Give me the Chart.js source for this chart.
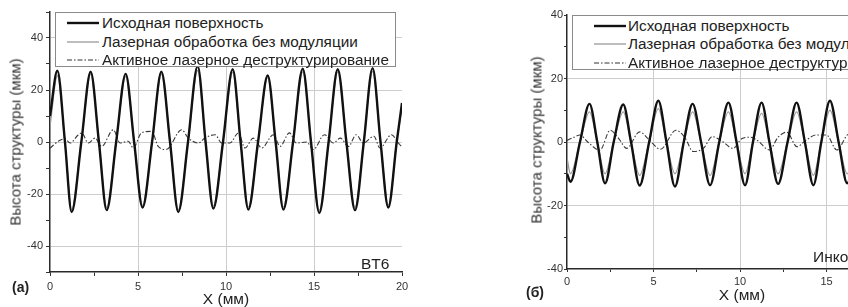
<!DOCTYPE html>
<html><head><meta charset="utf-8">
<script src="https://cdn.jsdelivr.net/npm/chart.js@4.4.1/dist/chart.umd.min.js"></script>
<style>
html,body{margin:0;padding:0;width:848px;height:307px;overflow:hidden;background:#fff;font-family:"Liberation Sans",Arial,sans-serif;}
.panel{position:absolute;top:0;height:307px;}
.lbl{position:absolute;white-space:nowrap;color:#222;line-height:1;}
.ytitle{position:absolute;white-space:nowrap;color:#333;font-weight:400;font-size:15px;line-height:1;transform:translate(-50%,-50%) rotate(-90deg);}
.xtitle{position:absolute;white-space:nowrap;color:#222;font-size:15.5px;line-height:1;transform:translate(-50%,-50%);}
.legend{position:absolute;background:#fff;border:1px solid #8a8a8a;box-sizing:border-box;}
.row{position:absolute;left:0;height:18px;width:100%;}
.row svg{position:absolute;top:0;}
.row span{position:absolute;top:0px;font-size:15.3px;color:#222;white-space:nowrap;line-height:17px;}
</style>
</head>
<body>
<script>
// ---------- Panel (a): BT6 ----------
const xA = [0, 0.42, 0.85, 1.23, 1.78, 2.31, 2.78, 3.22, 3.76, 4.3, 4.78, 5.26, 5.8, 6.33, 6.82, 7.29, 7.84, 8.39, 8.84, 9.28, 9.83, 10.38, 10.83, 11.27, 11.82, 12.37, 12.82, 13.26, 13.81, 14.36, 14.83, 15.3, 15.83, 16.35, 16.84, 17.33, 17.83, 18.33, 18.78, 19.22, 19.7, 20];
const aInitial = [10, 27.4, 0, -26.9, 0, 27, 0, -26.2, 0, 26.2, 0, -25.2, 0, 27, 0, -26.9, 0, 29.2, 0, -25.6, 0, 28, 0, -26, 0, 25.6, 0, -26, 0, 28.2, 0, -27.3, 0, 28, 0, -26.2, 0, 28.4, 0, -25.2, 0, 15];
const aLaser   = [6, 25.5, 0, -26, 0, 26, 0, -25.2, 0, 25.2, 0, -24.4, 0, 26, 0, -26, 0, 27.5, 0, -24.6, 0, 26.8, 0, -25, 0, 24.8, 0, -25, 0, 27, 0, -26.2, 0, 27, 0, -25.2, 0, 27.2, 0, -24.3, 0, 13];
const xAdest = [0, 0.47, 0.85, 1.14, 1.6, 1.8, 2.18, 2.56, 2.93, 3.6, 3.98, 4.45, 4.73, 5.2, 5.78, 6.15, 6.6, 7.48, 7.86, 8.43, 8.8, 9.38, 9.75, 10.23, 10.7, 11.08, 11.55, 12.03, 12.7, 13.07, 13.6, 14.0, 14.58, 14.96, 15.6, 16.1, 16.5, 16.95, 17.4, 17.8, 18.4, 18.75, 19.4, 19.8, 20];
const aDestr  = [-2.4, 0.3, 1.2, -0.4, 2.7, 3.5, -0.4, 1.5, -1.7, 4.7, -0.4, 0.3, -2.3, 3.5, 4.1, -1.7, -2.9, 4.7, 1.5, -0.4, 1.5, 2.8, -0.4, -0.4, 3.5, -2.3, 1.5, -2.3, 2.8, -1.7, 3.5, -0.4, 0, -2.9, 2.8, -0.4, 1.5, -1.7, 2.8, -0.4, 2.2, -2.3, 2.8, -0.4, -2];

// ---------- Panel (б): Инконель ----------
const xB = [0, 0.2, 0.75, 1.3, 1.75, 2.2, 2.7, 3.25, 3.7, 4.2, 4.75, 5.28, 5.75, 6.24, 6.75, 7.26, 7.75, 8.27, 8.8, 9.33, 9.8, 10.29, 10.75, 11.25, 11.7, 12.2, 12.75, 13.27, 13.75, 14.24, 14.7, 15.2, 15.7, 16.2, 16.7, 17.25, 17.7, 18.2, 18.7, 19.25, 19.7, 20];
const bInitial = [-10, -12.5, 0, 12, 0, -13, 0, 11.8, 0, -13.7, 0, 13, 0, -14, 0, 12, 0, -13.6, 0, 12.4, 0, -13.6, 0, 12.4, 0, -13.2, 0, 12.4, 0, -13.6, 0, 13, 0, -13, 0, 12.5, 0, -13.5, 0, 12.5, 0, -7];
const bLaser   = [-5, -10, 0, 9.5, 0, -10, 0, 9.5, 0, -10.5, 0, 10.5, 0, -10, 0, 9.5, 0, -10.5, 0, 9.5, 0, -10, 0, 9, 0, -10, 0, 9.5, 0, -10.5, 0, 10, 0, -10, 0, 9.5, 0, -10, 0, 9.5, 0, -5];
const xBdest = [0, 0.4, 0.75, 1.2, 1.9, 2.5, 3.0, 3.45, 4.2, 4.7, 5.4, 6.3, 6.8, 7.3, 7.9, 8.4, 8.9, 9.6, 10.1, 10.6, 11.0, 11.7, 12.2, 12.7, 13.3, 13.8, 14.4, 15.0, 15.6, 16.3, 16.8, 17.4, 18.2, 18.8, 19.4, 20];
const bDestr  = [0.5, 1.5, 2.2, 0, -2.6, 3.7, 1, -2, 3.2, 1, -2.3, 3.7, 1.5, -3, -1.9, 1.7, 0.5, -2, 1, 1.5, 0.5, -2.5, 1.5, 3.1, -1.5, 0.5, 2.2, 2.2, -2.5, 2.5, 0.5, -2, 2.8, 0.5, -2, 1];

const seriesNames = ["Исходная поверхность", "Лазерная обработка без модуляции", "Активное лазерное деструктурирование"];
const xTicks = [0, 5, 10, 15, 20];
const yTicksA = [-40, -20, 0, 20, 40];
const yTicksB = [-40, -20, 0, 20, 40];
const yTitle = "Высота структуры (мкм)";
const xTitle = "X (мм)";

const pts = (xs, ys) => xs.map((x, i) => ({x: x, y: ys[i]}));

function el(tag, cls, style, text) {
  const d = document.createElement(tag);
  if (cls) d.className = cls;
  Object.assign(d.style, style);
  if (text !== undefined) d.textContent = text;
  document.body.appendChild(d);
  return d;
}

function legend(left, top, sampleLeft, textLeft, rowTops) {
  const box = el('div', 'legend', {left: left + 'px', top: top + 'px', width: '341px', height: '55px'});
  const styles = [
    {stroke: '#111', w: 2.4, dash: ''},
    {stroke: '#9a9a9a', w: 1.3, dash: ''},
    {stroke: '#333', w: 1.2, dash: '5 2 1.5 2'}
  ];
  seriesNames.forEach((name, i) => {
    const row = document.createElement('div');
    row.className = 'row';
    row.style.top = rowTops[i] + 'px';
    const s = styles[i];
    row.innerHTML = '<svg width="34" height="18" style="left:' + sampleLeft + 'px"><line x1="0" y1="9" x2="32" y2="9" stroke="' + s.stroke + '" stroke-width="' + s.w + '"' + (s.dash ? ' stroke-dasharray="' + s.dash + '"' : '') + '/></svg><span style="left:' + textLeft + 'px">' + name + '</span>';
    box.appendChild(row);
  });
}

function makeChart(cfg) {
  const wrap = el('div', 'panel', {left: cfg.left + 'px', width: cfg.width + 'px'});
  const cv = document.createElement('canvas');
  cv.width = cfg.width; cv.height = 307;
  cv.style.width = cfg.width + 'px'; cv.style.height = '307px';
  wrap.appendChild(cv);
  const tickFont = {family: '"Liberation Sans", Arial, sans-serif', size: 11};
  new Chart(cv.getContext('2d'), {
    type: 'line',
    data: {
      datasets: [
        {label: seriesNames[0], data: pts(cfg.x12, cfg.s1), borderColor: '#111', borderWidth: 2.4},
        {label: seriesNames[1], data: pts(cfg.x12, cfg.s2), borderColor: '#9a9a9a', borderWidth: 1.3},
        {label: seriesNames[2], data: pts(cfg.x3, cfg.s3), borderColor: '#3a3a3a', borderWidth: 1.1, borderDash: [5, 2, 1.5, 2]}
      ].map(d => Object.assign(d, {pointRadius: 0, fill: false, cubicInterpolationMode: 'monotone'}))
    },
    options: {
      responsive: false, animation: false, devicePixelRatio: 1,
      layout: {padding: {left: cfg.padLeft, top: cfg.padTop, right: cfg.padRight, bottom: 0}},
      plugins: {legend: {display: false}, tooltip: {enabled: false}},
      scales: {
        x: {
          type: 'linear', min: 0, max: 20,
          afterBuildTicks: s => { s.ticks = [0, 2.5, 5, 7.5, 10, 12.5, 15, 17.5, 20].map(v => ({value: v})); },
          ticks: {autoSkip: false, maxRotation: 0, color: '#333', font: tickFont, padding: cfg.xPad,
                  callback: v => xTicks.includes(v) ? String(v) : ''},
          grid: {color: c => (c.tick && [5, 10, 15].includes(c.tick.value)) ? '#cdcdcd' : 'rgba(0,0,0,0)',
                 tickColor: '#333', tickLength: cfg.tl, lineWidth: 1},
          border: {display: true, color: '#2a2a2a', width: 1.5},
          afterFit: s => { s.height = cfg.xH; }
        },
        y: {
          type: 'linear', min: cfg.ymin, max: cfg.ymax,
          afterBuildTicks: s => { const t = []; for (const v of cfg.yAll) t.push({value: v}); s.ticks = t; },
          ticks: {autoSkip: false, color: '#333', font: tickFont, padding: cfg.yPad,
                  callback: v => cfg.yLab.includes(v) ? String(v) : ''},
          grid: {color: c => (c.tick && cfg.yGrid.includes(c.tick.value)) ? '#cdcdcd' : 'rgba(0,0,0,0)',
                 tickColor: '#333', tickLength: cfg.tl, lineWidth: 1},
          border: {display: true, color: '#2a2a2a', width: 1.5},
          afterFit: s => { s.width = cfg.yW; }
        }
      }
    }
  });
}

// Panel (a)
makeChart({left: 0, width: 424, x12: xA, s1: aInitial, s2: aLaser, x3: xAdest, s3: aDestr,
  ymin: -50, ymax: 50, yAll: [-50, -40, -30, -20, -10, 0, 10, 20, 30, 40, 50], yLab: yTicksA, yGrid: [-40, -20, 0, 20, 40],
  padLeft: 0, padTop: 12, padRight: 22, yW: 50, xH: 35, tl: 4, xPad: 4, yPad: 3});
legend(55, 12, 11, 46, [1, 20, 38]);
el('div', 'ytitle', {left: '15px', top: '142px'}, yTitle);
el('div', 'xtitle', {left: '226px', top: '299px'}, xTitle);
el('div', 'lbl', {left: '12px', top: '280px', fontSize: '14px', fontWeight: 'bold'}, '(a)');
el('div', 'lbl', {left: '361px', top: '256px', fontSize: '15.5px'}, 'BT6');

// Panel (б)
makeChart({left: 424, width: 520, x12: xB, s1: bInitial, s2: bLaser, x3: xBdest, s3: bDestr,
  ymin: -40, ymax: 40, yAll: [-40, -30, -20, -10, 0, 10, 20, 30, 40], yLab: yTicksB, yGrid: [-20, 0, 20],
  padLeft: 113, padTop: 15, padRight: 31, yW: 30, xH: 38, tl: 3, xPad: 3, yPad: 1});
legend(572, 15, 21, 55, [1, 19, 38]);
el('div', 'ytitle', {left: '536px', top: '140px'}, yTitle);
el('div', 'xtitle', {left: '742px', top: '295px'}, xTitle);
el('div', 'lbl', {left: '526px', top: '285px', fontSize: '14px', fontWeight: 'bold'}, '(б)');
el('div', 'lbl', {left: '813px', top: '249px', fontSize: '15.5px'}, 'Инконель');
</script>
</body></html>
